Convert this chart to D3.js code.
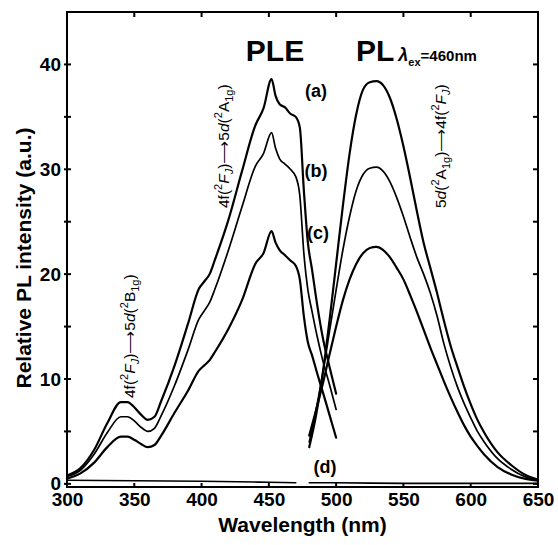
<!DOCTYPE html>
<html>
<head>
<meta charset="utf-8">
<script src="https://cdnjs.cloudflare.com/ajax/libs/d3/7.8.5/d3.min.js"></script>
<style>
  body { margin: 0; background: #fff; }
  svg { display: block; font-family: Arial, "Liberation Sans", sans-serif; }
  .curve { fill: none; stroke: #000; stroke-linejoin: round; stroke-linecap: round; }
</style>
</head>
<body>
<svg id="chart" width="558" height="545"></svg>
<script>
// *******************
// data
// *******************

// excitation (PLE) spectra, monitored emission
const pleWave = [300, 310, 320, 330, 340, 345, 350, 355, 360, 365, 370, 380, 390, 398, 402, 406, 410, 420, 430, 440, 446, 452, 455, 458, 462, 466, 470, 473, 476, 479, 482, 486, 490, 495, 500];
const pleA = [0.8, 1.5, 3.2, 5.8, 7.8, 7.8, 7.3, 6.6, 6.1, 6.4, 7.9, 11.3, 15.3, 18.6, 19.3, 20.0, 21.4, 25.2, 29.8, 34.2, 35.8, 38.6, 37.0, 36.2, 35.9, 35.3, 35.0, 34.0, 28.0, 23.0, 20.5, 17.0, 14.0, 11.2, 8.6];
const pleB = [0.7, 1.3, 2.8, 4.9, 6.4, 6.4, 6.0, 5.4, 5.0, 5.3, 6.5, 9.4, 12.8, 15.7, 16.5, 17.3, 18.6, 22.3, 26.4, 30.3, 31.5, 33.5, 32.0, 31.0, 30.5, 30.0, 29.3, 27.5, 22.0, 18.5, 16.5, 14.0, 11.8, 9.5, 7.1];
const pleC = [0.5, 1.0, 2.0, 3.5, 4.5, 4.5, 4.2, 3.8, 3.5, 3.7, 4.6, 6.8, 8.9, 10.8, 11.3, 11.8, 12.6, 14.8, 17.5, 21.0, 22.0, 24.1, 23.0, 22.3, 21.8, 21.3, 20.8, 19.5, 16.0, 13.5, 12.3, 10.5, 8.8, 6.6, 4.4];

// emission (PL) spectra, excited at 460 nm
const plWave = [480, 485, 490, 495, 500, 505, 510, 515, 520, 525, 530, 535, 540, 545, 550, 555, 560, 565, 570, 575, 580, 585, 590, 595, 600, 605, 610, 620, 630, 640, 650];
const plA = [3.5, 6.5, 10.5, 15.5, 21.0, 26.5, 31.5, 35.3, 37.6, 38.3, 38.4, 38.0, 36.8, 34.8, 32.2, 29.2, 26.0, 23.0, 20.6, 18.2, 15.6, 13.2, 11.2, 9.3, 7.6, 6.1, 4.9, 3.0, 1.8, 0.9, 0.4];
const plB = [4.0, 7.0, 10.5, 14.5, 18.5, 22.3, 25.5, 28.0, 29.5, 30.1, 30.2, 29.8, 28.8, 27.3, 25.5, 23.5, 21.6, 20.0, 18.2, 16.0, 13.4, 11.2, 9.3, 7.7, 6.3, 5.0, 4.0, 2.4, 1.4, 0.7, 0.3];
const plC = [4.6, 7.0, 9.5, 12.3, 15.0, 17.5, 19.5, 21.0, 22.0, 22.5, 22.6, 22.3, 21.6, 20.6, 19.5, 18.0, 16.4, 14.7, 13.0, 11.4, 9.8, 8.3, 6.9, 5.6, 4.5, 3.6, 2.8, 1.6, 0.9, 0.5, 0.3];

// sample (d): almost flat, sitting on the axis
const dPleWave = [300, 350, 400, 450, 470];
const dPle = [0.35, 0.3, 0.25, 0.15, 0.1];
const dPlWave = [480, 500, 550, 600, 650];
const dPl = [0.1, 0.1, 0.05, 0.05, 0.05];

const xTicks = [300, 350, 400, 450, 500, 550, 600, 650];
const yTicks = [0, 10, 20, 30, 40];
const yMinorTicks = [5, 15, 25, 35];

// *******************
// layout
// *******************
const svg = d3.select("#chart");
const X0 = 67, X1 = 538, Y0 = 487, Y1 = 12;

const x = d3.scaleLinear().domain([300, 650]).range([X0, X1]);
const y = d3.scaleLinear().domain([-0.3, 45]).range([Y0, Y1]);

// curves
const line = d3.line()
  .x((d) => x(d[0]))
  .y((d) => y(d[1]))
  .curve(d3.curveMonotoneX);

function drawCurve(waves, vals, width) {
  svg.append("path")
    .attr("class", "curve")
    .attr("stroke-width", width)
    .attr("d", line(waves.map((w, i) => [w, vals[i]])));
}

drawCurve(dPleWave, dPle, 1.6);
drawCurve(dPlWave, dPl, 1.6);
drawCurve(pleWave, pleA, 2.2);
drawCurve(pleWave, pleB, 1.7);
drawCurve(pleWave, pleC, 2.2);
drawCurve(plWave, plA, 2.2);
drawCurve(plWave, plB, 1.7);
drawCurve(plWave, plC, 2.2);

// axes: ticks drawn inward on all four sides
const axisG = svg.append("g").attr("stroke", "#000").attr("stroke-width", 2);

function styleTickText(g) {
  g.selectAll("path.domain").remove();
  g.selectAll("text")
    .attr("stroke", "none")
    .attr("fill", "#000")
    .style("font-family", "Arial, 'Liberation Sans', sans-serif")
    .style("font-size", "19px")
    .style("font-weight", "bold");
}

const left = axisG.append("g").attr("transform", `translate(${X0},0)`);
left.call(d3.axisLeft(y).tickValues(yTicks).tickSize(0).tickPadding(6).tickFormat(d3.format("d")));
styleTickText(left);

yTicks.concat(yMinorTicks).forEach((v) => {
  axisG.append("line").attr("x1", X0 - 3).attr("x2", X0 + 4).attr("y1", y(v)).attr("y2", y(v));
  axisG.append("line").attr("x1", X1 - 5).attr("x2", X1).attr("y1", y(v)).attr("y2", y(v));
});

const bottom = axisG.append("g").attr("transform", `translate(0,${Y0})`);
bottom.call(d3.axisBottom(x).tickValues(xTicks).tickSize(0).tickPadding(6).tickFormat(d3.format("d")));
styleTickText(bottom);

xTicks.slice(1, -1).forEach((v) => {
  axisG.append("line").attr("x1", x(v)).attr("x2", x(v)).attr("y1", Y0).attr("y2", Y0 - 4);
  axisG.append("line").attr("x1", x(v)).attr("x2", x(v)).attr("y1", Y1).attr("y2", Y1 + 5);
});

axisG.append("rect")
  .attr("x", X0).attr("y", Y1)
  .attr("width", X1 - X0).attr("height", Y0 - Y1)
  .attr("fill", "none");

// axis titles
svg.append("text")
  .attr("x", (X0 + X1) / 2).attr("y", 532)
  .attr("text-anchor", "middle")
  .style("font-size", "21px").style("font-weight", "bold")
  .text("Wavelength (nm)");

svg.append("text")
  .attr("transform", "translate(31,258) rotate(-90)")
  .attr("text-anchor", "middle")
  .style("font-size", "21px").style("font-weight", "bold")
  .text("Relative PL intensity (a.u.)");

// headings
svg.append("text")
  .attr("x", 275).attr("y", 61)
  .attr("text-anchor", "middle")
  .style("font-size", "30px").style("font-weight", "bold")
  .text("PLE");

const plHead = svg.append("text")
  .attr("x", 356).attr("y", 61)
  .style("font-weight", "bold");
plHead.append("tspan").style("font-size", "30px").text("PL");
plHead.append("tspan").attr("dx", 4).style("font-size", "18px").style("font-style", "italic").text("λ");
plHead.append("tspan").attr("dy", 5).style("font-size", "11px").text("ex");
plHead.append("tspan").attr("dy", -5).style("font-size", "15px").text("=460nm");

// sample labels
const sampleLabels = [
  { t: "(a)", x: 316, y: 97 },
  { t: "(b)", x: 316, y: 177 },
  { t: "(c)", x: 318, y: 239 },
  { t: "(d)", x: 325, y: 473 },
];
sampleLabels.forEach((d) => {
  svg.append("text")
    .attr("x", d.x).attr("y", d.y)
    .attr("text-anchor", "middle")
    .style("font-size", "18px").style("font-weight", "bold")
    .text(d.t);
});

// transition labels, rotated, built from small pieces
function richText(px, py, parts) {
  const t = svg.append("text")
    .attr("transform", `translate(${px},${py}) rotate(-90)`)
    .style("font-size", "15.5px");
  let shift = 0;
  parts.forEach((p) => {
    const target = p.s === "sup" ? -7 : p.s === "sub" ? 4 : 0;
    const ts = t.append("tspan").attr("dy", target - shift).text(p.t);
    shift = target;
    if (p.i) ts.style("font-style", "italic");
    if (p.s) ts.style("font-size", "11px");
  });
  return t;
}

const fToD = (sym) => [
  { t: "4f(" }, { t: "2", s: "sup" }, { t: "F", i: true }, { t: "J", s: "sub", i: true },
  { t: ")" }, { t: "⟶" }, { t: "5" }, { t: "d", i: true }, { t: "(" },
  { t: "2", s: "sup" }, { t: sym[0] }, { t: sym[1], s: "sub" }, { t: ")" },
];
richText(229, 208, fToD(["A", "1g"]));
richText(135, 398, fToD(["B", "1g"]));
richText(446, 208, [
  { t: "5" }, { t: "d", i: true }, { t: "(" }, { t: "2", s: "sup" }, { t: "A" },
  { t: "1g", s: "sub" }, { t: ")" }, { t: "⟶" }, { t: "4f(" }, { t: "2", s: "sup" },
  { t: "F", i: true }, { t: "J", s: "sub", i: true }, { t: ")" },
]);
</script>
</body>
</html>
